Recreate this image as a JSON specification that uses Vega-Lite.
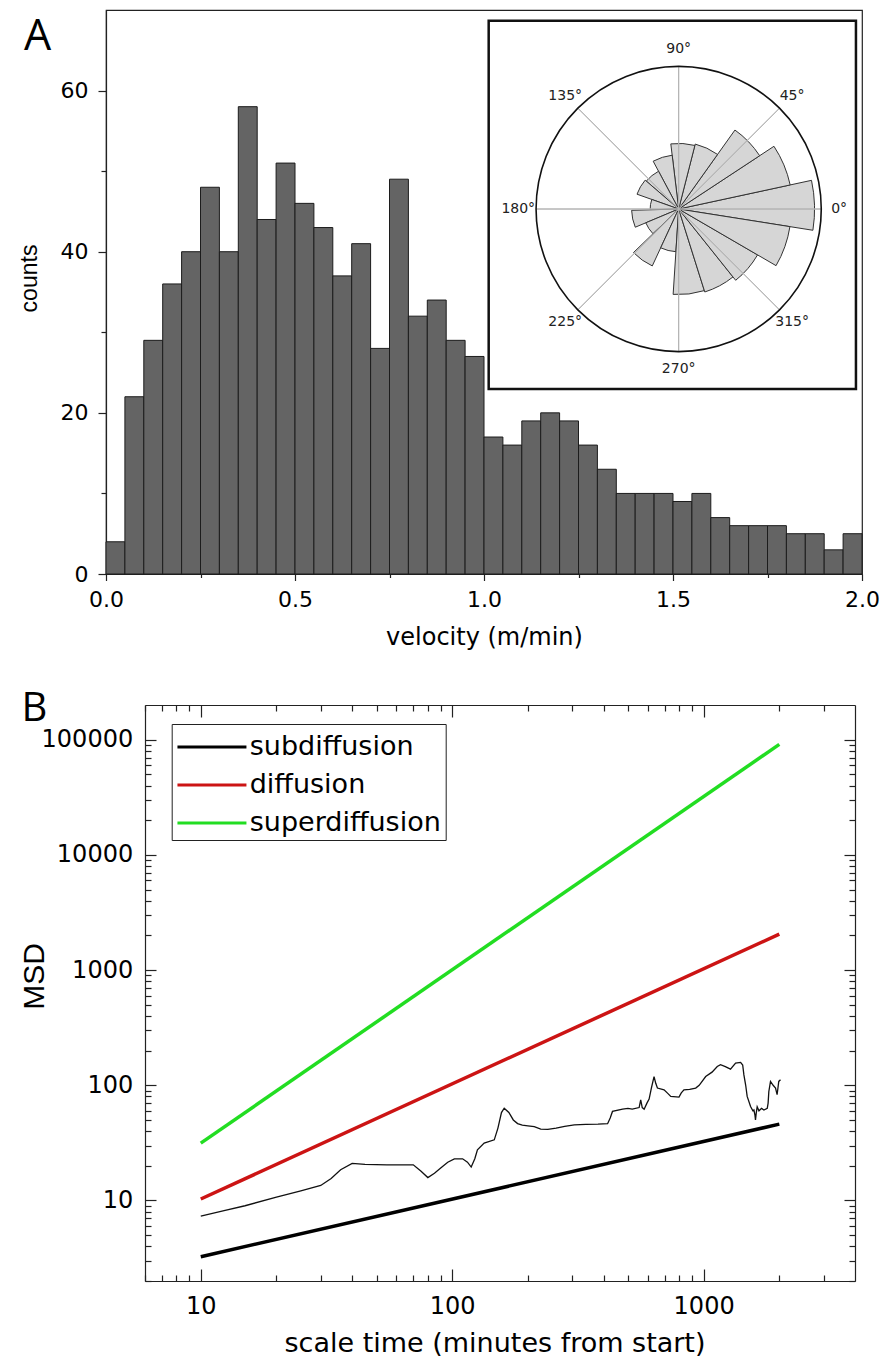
{
  "$schema": "https://vega.github.io/schema/vega-lite/v6.json",
  "padding": {"left": 17, "top": 9, "right": 0, "bottom": 0},
  "spacing": 37,
  "resolve": {"scale": {"color": "independent"}, "legend": {"color": "independent"}},
  "config": {
    "view": {"stroke": "#222", "strokeWidth": 1.2},
    "font": "DejaVu Sans",
    "axis": {"grid": false, "domainColor": "#222", "tickColor": "#222", "labelColor": "#000", "titleColor": "#000", "labelFont": "DejaVu Sans", "titleFont": "DejaVu Sans", "titleFontWeight": "normal", "labelFlush": false, "labelOverlap": false, "domainWidth": 1.2, "tickWidth": 1.2}
  },
  "vconcat": [
    {
      "width": 756,
      "height": 564,
      "layer": [
        {
          "data": {"values": [
            {"lo": 0, "hi": 0.05, "n": 4}, {"lo": 0.05, "hi": 0.1, "n": 22}, {"lo": 0.1, "hi": 0.15, "n": 29}, {"lo": 0.15, "hi": 0.2, "n": 36},
            {"lo": 0.2, "hi": 0.25, "n": 40}, {"lo": 0.25, "hi": 0.3, "n": 48}, {"lo": 0.3, "hi": 0.35, "n": 40}, {"lo": 0.35, "hi": 0.4, "n": 58},
            {"lo": 0.4, "hi": 0.45, "n": 44}, {"lo": 0.45, "hi": 0.5, "n": 51}, {"lo": 0.5, "hi": 0.55, "n": 46}, {"lo": 0.55, "hi": 0.6, "n": 43},
            {"lo": 0.6, "hi": 0.65, "n": 37}, {"lo": 0.65, "hi": 0.7, "n": 41}, {"lo": 0.7, "hi": 0.75, "n": 28}, {"lo": 0.75, "hi": 0.8, "n": 49},
            {"lo": 0.8, "hi": 0.85, "n": 32}, {"lo": 0.85, "hi": 0.9, "n": 34}, {"lo": 0.9, "hi": 0.95, "n": 29}, {"lo": 0.95, "hi": 1.0, "n": 27},
            {"lo": 1.0, "hi": 1.05, "n": 17}, {"lo": 1.05, "hi": 1.1, "n": 16}, {"lo": 1.1, "hi": 1.15, "n": 19}, {"lo": 1.15, "hi": 1.2, "n": 20},
            {"lo": 1.2, "hi": 1.25, "n": 19}, {"lo": 1.25, "hi": 1.3, "n": 16}, {"lo": 1.3, "hi": 1.35, "n": 13}, {"lo": 1.35, "hi": 1.4, "n": 10},
            {"lo": 1.4, "hi": 1.45, "n": 10}, {"lo": 1.45, "hi": 1.5, "n": 10}, {"lo": 1.5, "hi": 1.55, "n": 9}, {"lo": 1.55, "hi": 1.6, "n": 10},
            {"lo": 1.6, "hi": 1.65, "n": 7}, {"lo": 1.65, "hi": 1.7, "n": 6}, {"lo": 1.7, "hi": 1.75, "n": 6}, {"lo": 1.75, "hi": 1.8, "n": 6},
            {"lo": 1.8, "hi": 1.85, "n": 5}, {"lo": 1.85, "hi": 1.9, "n": 5}, {"lo": 1.9, "hi": 1.95, "n": 3}, {"lo": 1.95, "hi": 2.0, "n": 5}
          ]},
          "mark": {"type": "bar", "fill": "#646464", "stroke": "#1c1c1c", "strokeWidth": 1},
          "encoding": {
            "x": {"field": "lo", "type": "quantitative", "scale": {"domain": [0, 2], "nice": false, "zero": false},
              "axis": {"values": [0, 0.25, 0.5, 0.75, 1, 1.25, 1.5, 1.75, 2], "format": ".1f",
                "labelExpr": "indexof([0, 0.5, 1, 1.5, 2], datum.value) >= 0 ? datum.label : ''",
                "tickSize": {"condition": {"test": "indexof([0, 0.5, 1, 1.5, 2], datum.value) >= 0", "value": 6.5}, "value": 3.5},
                "labelPadding": 9, "labelFontSize": 22, "title": "velocity (m/min)", "titleFontSize": 24, "titlePadding": 15}},
            "x2": {"field": "hi"},
            "y": {"field": "n", "type": "quantitative", "scale": {"domain": [0, 70], "nice": false},
              "axis": {"values": [0, 10, 20, 30, 40, 50, 60], "format": "d",
                "labelExpr": "indexof([0, 20, 40, 60], datum.value) >= 0 ? datum.label : ''",
                "tickSize": {"condition": {"test": "indexof([0, 20, 40, 60], datum.value) >= 0", "value": 8}, "value": 5},
                "labelPadding": 10, "labelFontSize": 22, "title": "counts", "titleFont": "Liberation Sans", "titleFontSize": 23, "titlePadding": 19, "titleY": 268}},
            "y2": {"datum": 0}
          }
        },
        {
          "data": {"values": [{}]},
          "mark": {"type": "rect", "fill": "white", "stroke": "#111", "strokeWidth": 2.5},
          "encoding": {
            "x": {"datum": 1.0124, "type": "quantitative"},
            "x2": {"datum": 1.984},
            "y": {"datum": 68.67, "type": "quantitative"},
            "y2": {"datum": 22.96}
          }
        },
        {
          "data": {"values": [
            {"a0": -9.0, "a1": 12.18, "r": 0.953}, {"a0": 12.18, "a1": 33.35, "r": 0.80}, {"a0": 33.35, "a1": 54.53, "r": 0.68},
            {"a0": 54.53, "a1": 75.71, "r": 0.47}, {"a0": 75.71, "a1": 96.88, "r": 0.46}, {"a0": 96.88, "a1": 118.06, "r": 0.38},
            {"a0": 118.06, "a1": 139.24, "r": 0.30}, {"a0": 139.24, "a1": 160.41, "r": 0.31}, {"a0": 160.41, "a1": 181.59, "r": 0.20},
            {"a0": 181.59, "a1": 202.76, "r": 0.33}, {"a0": 202.76, "a1": 223.94, "r": 0.25}, {"a0": 223.94, "a1": 245.12, "r": 0.44},
            {"a0": 245.12, "a1": 266.29, "r": 0.30}, {"a0": 266.29, "a1": 287.47, "r": 0.60}, {"a0": 287.47, "a1": 308.65, "r": 0.61},
            {"a0": 308.65, "a1": 329.82, "r": 0.64}, {"a0": 329.82, "a1": 351.0, "r": 0.79}
          ]},
          "mark": {"type": "arc", "fill": "#d6d6d6", "stroke": "#333", "strokeWidth": 1},
          "encoding": {
            "x": {"datum": 1.515, "type": "quantitative"},
            "y": {"datum": 45.3, "type": "quantitative"},
            "theta": {"field": "a0", "type": "quantitative", "scale": {"domain": [0, 360], "range": [1.5708, -4.7124]}},
            "theta2": {"field": "a1"},
            "radius": {"field": "r", "type": "quantitative", "scale": {"type": "linear", "domain": [0, 1], "range": [0, 142.6], "zero": true}}
          }
        },
        {
          "data": {"values": [{"a": 0}, {"a": 45}, {"a": 90}, {"a": 135}, {"a": 180}, {"a": 225}, {"a": 270}, {"a": 315}]},
          "mark": {"type": "arc", "filled": false, "stroke": "#b4b4b4", "strokeWidth": 1},
          "encoding": {
            "x": {"datum": 1.515, "type": "quantitative"},
            "y": {"datum": 45.3, "type": "quantitative"},
            "theta": {"field": "a", "type": "quantitative"},
            "theta2": {"field": "a"},
            "radius": {"datum": 1, "type": "quantitative"}
          }
        },
        {
          "data": {"values": [{}]},
          "mark": {"type": "arc", "filled": false, "stroke": "#111", "strokeWidth": 1.6},
          "encoding": {
            "x": {"datum": 1.515, "type": "quantitative"},
            "y": {"datum": 45.3, "type": "quantitative"},
            "theta": {"datum": 0, "type": "quantitative"},
            "theta2": {"datum": 360},
            "radius": {"datum": 1, "type": "quantitative"}
          }
        },
        {
          "data": {"values": [
            {"a": 0, "label": "0°"}, {"a": 45, "label": "45°"}, {"a": 90, "label": "90°"}, {"a": 135, "label": "135°"},
            {"a": 180, "label": "180°"}, {"a": 225, "label": "225°"}, {"a": 270, "label": "270°"}, {"a": 315, "label": "315°"}
          ]},
          "mark": {"type": "text", "font": "DejaVu Sans", "fontSize": 14, "color": "#222", "align": "center", "baseline": "middle"},
          "encoding": {
            "x": {"datum": 1.515, "type": "quantitative"},
            "y": {"datum": 45.3, "type": "quantitative"},
            "theta": {"field": "a", "type": "quantitative", "stack": null},
            "radius": {"datum": 1.125, "type": "quantitative"},
            "text": {"field": "label"}
          }
        },
        {
          "data": {"values": [{}]},
          "mark": {"type": "text", "text": "A", "font": "Open Sans", "fontSize": 43, "color": "#000", "align": "center", "baseline": "alphabetic"},
          "encoding": {
            "x": {"datum": -0.1807, "type": "quantitative"},
            "y": {"datum": 65.04, "type": "quantitative"}
          }
        }
      ]
    },
    {
      "width": 749,
      "height": 576,
      "view": {"stroke": null},
      "layer": [
        {
          "data": {"values": [
            {"series": "subdiffusion", "t": 10, "msd": 3.25}, {"series": "subdiffusion", "t": 2000, "msd": 46},
            {"series": "diffusion", "t": 10, "msd": 10.3}, {"series": "diffusion", "t": 2000, "msd": 2050},
            {"series": "superdiffusion", "t": 10, "msd": 31.5}, {"series": "superdiffusion", "t": 2000, "msd": 91000}
          ]},
          "mark": {"type": "line", "strokeWidth": 3.5},
          "encoding": {
            "x": {"field": "t", "type": "quantitative", "scale": {"type": "log", "domain": [6, 4000], "nice": false, "range": [39, 749]},
              "axis": {"orient": "bottom", "values": [6, 7, 8, 9, 10, 20, 30, 40, 50, 60, 70, 80, 90, 100, 200, 300, 400, 500, 600, 700, 800, 900, 1000, 2000, 3000], "format": "d",
                "labelExpr": "indexof([10, 100, 1000], datum.value) >= 0 ? datum.label : ''",
                "tickSize": {"condition": {"test": "indexof([10, 100, 1000], datum.value) >= 0", "value": -12}, "value": -6},
                "labelPadding": 25, "labelFontSize": 24, "title": "scale time (minutes from start)", "titleFontSize": 27, "titlePadding": 6, "titleX": 388.5}},
            "y": {"field": "msd", "type": "quantitative", "scale": {"type": "log", "domain": [2, 200000], "nice": false},
              "axis": {"orient": "left", "offset": -39, "values": [2, 3, 4, 5, 6, 7, 8, 9, 10, 20, 30, 40, 50, 60, 70, 80, 90, 100, 200, 300, 400, 500, 600, 700, 800, 900, 1000, 2000, 3000, 4000, 5000, 6000, 7000, 8000, 9000, 10000, 20000, 30000, 40000, 50000, 60000, 70000, 80000, 90000, 100000], "format": "d",
                "labelExpr": "indexof([10, 100, 1000, 10000, 100000], datum.value) >= 0 ? datum.label : ''",
                "tickSize": {"condition": {"test": "indexof([10, 100, 1000, 10000, 100000], datum.value) >= 0", "value": -11}, "value": -6},
                "labelPadding": 23.3, "labelFontSize": 24, "title": "MSD", "titleFont": "Liberation Sans", "titleFontSize": 30, "titlePadding": -8, "titleY": 271}},
            "color": {"field": "series", "type": "nominal",
              "scale": {"domain": ["subdiffusion", "diffusion", "superdiffusion"], "range": ["#000000", "#cc1414", "#22dd22"]},
              "legend": {"title": null, "orient": "none", "legendX": 65.7, "legendY": 19, "symbolType": "M-1,0H3", "symbolSize": 1190, "symbolStrokeWidth": 3,
                "labelFont": "DejaVu Sans", "labelFontSize": 27, "labelColor": "#000", "labelOffset": 36, "strokeColor": "#222", "fillColor": "white", "padding": 4, "rowPadding": 6, "labelLimit": 400}}
          }
        },
        {
          "data": {"values": [
            {"t": 10, "msd": 7.3}, {"t": 12.5, "msd": 8.2}, {"t": 15, "msd": 9.0}, {"t": 20, "msd": 10.7}, {"t": 25, "msd": 12.1}, {"t": 30, "msd": 13.5},
            {"t": 33, "msd": 15.5}, {"t": 36, "msd": 18.5}, {"t": 40, "msd": 21}, {"t": 45, "msd": 20.6}, {"t": 55, "msd": 20.4}, {"t": 70, "msd": 20.4},
            {"t": 75, "msd": 18}, {"t": 80, "msd": 15.8}, {"t": 85, "msd": 17.2}, {"t": 90, "msd": 19.1}, {"t": 96, "msd": 21.5}, {"t": 102, "msd": 23},
            {"t": 110, "msd": 23}, {"t": 115, "msd": 21.5}, {"t": 119, "msd": 19.5}, {"t": 123, "msd": 23}, {"t": 126, "msd": 27.5}, {"t": 134, "msd": 31.5},
            {"t": 147, "msd": 33.6}, {"t": 152, "msd": 42.5}, {"t": 157, "msd": 58}, {"t": 161, "msd": 63.3}, {"t": 168, "msd": 58}, {"t": 175, "msd": 50},
            {"t": 182, "msd": 46.5}, {"t": 190, "msd": 45}, {"t": 200, "msd": 44.5}, {"t": 212, "msd": 43.8}, {"t": 225, "msd": 41.7}, {"t": 240, "msd": 41.5},
            {"t": 259, "msd": 42.5}, {"t": 280, "msd": 44}, {"t": 306, "msd": 45.4}, {"t": 340, "msd": 45.8}, {"t": 380, "msd": 46}, {"t": 415, "msd": 46.4},
            {"t": 425, "msd": 52}, {"t": 434, "msd": 59.3}, {"t": 476, "msd": 62.1}, {"t": 500, "msd": 63}, {"t": 520, "msd": 62}, {"t": 554, "msd": 64.1},
            {"t": 562, "msd": 74.8}, {"t": 570, "msd": 64}, {"t": 580, "msd": 62}, {"t": 595, "msd": 70}, {"t": 607, "msd": 76}, {"t": 620, "msd": 95},
            {"t": 635, "msd": 119}, {"t": 645, "msd": 104}, {"t": 655, "msd": 94.6}, {"t": 696, "msd": 91.4}, {"t": 720, "msd": 85}, {"t": 740, "msd": 80},
            {"t": 798, "msd": 79}, {"t": 815, "msd": 86}, {"t": 835, "msd": 91.4}, {"t": 880, "msd": 92}, {"t": 930, "msd": 94.6}, {"t": 960, "msd": 100},
            {"t": 1019, "msd": 119}, {"t": 1080, "msd": 130}, {"t": 1133, "msd": 145.6}, {"t": 1167, "msd": 151}, {"t": 1220, "msd": 145}, {"t": 1279, "msd": 138},
            {"t": 1340, "msd": 156}, {"t": 1403, "msd": 158}, {"t": 1430, "msd": 150}, {"t": 1446, "msd": 123}, {"t": 1470, "msd": 100}, {"t": 1490, "msd": 80},
            {"t": 1537, "msd": 65.5}, {"t": 1570, "msd": 60}, {"t": 1585, "msd": 61}, {"t": 1600, "msd": 55}, {"t": 1608, "msd": 50}, {"t": 1620, "msd": 58},
            {"t": 1633, "msd": 65}, {"t": 1660, "msd": 60}, {"t": 1700, "msd": 63}, {"t": 1737, "msd": 61}, {"t": 1791, "msd": 63}, {"t": 1805, "msd": 70},
            {"t": 1817, "msd": 88.3}, {"t": 1845, "msd": 108}, {"t": 1890, "msd": 100}, {"t": 1932, "msd": 94.6}, {"t": 1960, "msd": 82.8}, {"t": 1990, "msd": 108},
            {"t": 2022, "msd": 111.6}
          ]},
          "mark": {"type": "line", "color": "#111", "strokeWidth": 1.3},
          "encoding": {
            "x": {"field": "t", "type": "quantitative",
              "axis": {"orient": "top", "values": [6, 7, 8, 9, 10, 20, 30, 40, 50, 60, 70, 80, 90, 100, 200, 300, 400, 500, 600, 700, 800, 900, 1000, 2000, 3000],
                "labels": false, "title": null,
                "tickSize": {"condition": {"test": "indexof([10, 100, 1000], datum.value) >= 0", "value": -12}, "value": -6}}},
            "y": {"field": "msd", "type": "quantitative",
              "axis": {"orient": "right", "values": [2, 3, 4, 5, 6, 7, 8, 9, 10, 20, 30, 40, 50, 60, 70, 80, 90, 100, 200, 300, 400, 500, 600, 700, 800, 900, 1000, 2000, 3000, 4000, 5000, 6000, 7000, 8000, 9000, 10000, 20000, 30000, 40000, 50000, 60000, 70000, 80000, 90000, 100000],
                "labels": false, "title": null,
                "tickSize": {"condition": {"test": "indexof([10, 100, 1000, 10000, 100000], datum.value) >= 0", "value": -11}, "value": -6}}}
          }
        },
        {
          "data": {"values": [{}]},
          "mark": {"type": "text", "text": "B", "font": "Open Sans", "fontSize": 40, "color": "#000", "align": "center", "baseline": "alphabetic"},
          "encoding": {
            "x": {"datum": 2.18, "type": "quantitative", "axis": null},
            "y": {"datum": 145300, "type": "quantitative", "axis": null}
          }
        }
      ],
      "resolve": {"axis": {"x": "independent", "y": "independent"}}
    }
  ]
}
